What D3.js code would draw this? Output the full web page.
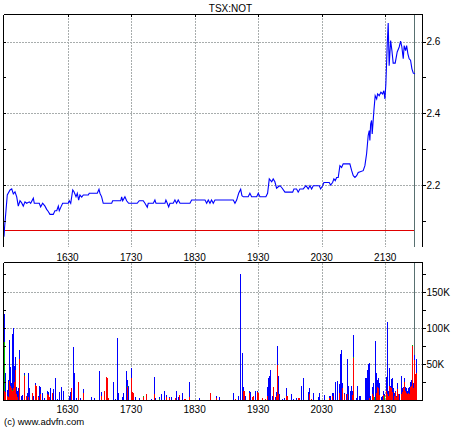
<!DOCTYPE html>
<html><head><meta charset="utf-8">
<script src="https://cdn.jsdelivr.net/npm/d3@7"></script>
<style>
body{margin:0;background:#fff}
svg{display:block}
text{font-family:"Liberation Sans Narrow","Arial Narrow","Liberation Sans",Arial,sans-serif;font-size:10px;fill:#000}
</style>
</head><body>
<svg id="c" width="460" height="430"></svg>
<script>
const title = "TSX:NOT";
const copyright = "(c) www.advfn.com";
// time in minutes after 15:30
const timeTicks = [60, 120, 180, 240, 300, 360];
const timeLabels = ["1630", "1730", "1830", "1930", "2030", "2130"];
const priceTicks = [2.2, 2.4, 2.6];
const priceMinorTicks = [2.1, 2.3, 2.5];
const volTicks = [50, 100, 150];           // thousands
const volTickLabels = ["50K", "100K", "150K"];
const volMinorTicks = [25, 75, 125, 175];
const prevClose = 2.075;
const markerTime = 387.4;

const priceTime = [0,0.5,3.1,5.7,7.3,8.8,10.4,12.0,13.5,15.1,
16.7,18.2,19.8,21.4,23.9,25.2,27.7,28.6,33.3,34.6,
36.5,38.7,40.3,41.8,43.4,46.5,48.1,49.8,51.3,52.2,
53.8,55.4,60.7,61.6,63,64.9,66.1,68,69.2,70.5,
71.7,73.4,74.9,79.6,80.5,88.1,89.7,90.6,92.2,93.7,
101.7,102.6,110.2,111.1,112.1,114.2,115.8,117.7,125.8,127.7,
131.5,133.1,135.3,136.2,141,142.5,143.5,152,152.9,154.2,
155.5,156.7,159.8,161.4,163,164.5,166.2,175.6,177.2,189.8,
191.4,192.9,194.5,196,197.6,199.2,216.5,218.1,219.7,221.6,
223.5,224.7,226,230.6,232.2,233.8,238.6,240.1,241.7,247.3,
248.9,250.5,252.8,254.2,255.8,257.4,259,260.6,262.2,265.3,
272.6,273.8,276.3,277.8,279.4,282.6,285.1,287.3,288.9,290.5,
292,297.7,299,300.9,302.1,307.1,308.4,310.3,311.5,312.8,
314.1,315.6,317.2,318.8,320.3,326.6,328.3,329.8,331.4,333,
334.5,339.2,340.8,342.4,343.9,344.9,345.5,346.2,347.1,347.7,
349.3,350.5,351.9,352.8,354.3,355.9,357.5,358.7,359.7,360.6,
361.9,362.8,363.7,365.1,366.3,367.5,369.4,371.3,373.2,374.5,
375.7,377,377.9,379.2,380.2,381.4,382.6,383.9,385.2,386.5,
388.1];
const priceValue = [2.056,2.080,2.172,2.186,2.189,2.175,2.181,2.167,2.141,2.156,
2.150,2.141,2.153,2.149,2.153,2.149,2.163,2.149,2.149,2.139,
2.149,2.141,2.132,2.126,2.118,2.118,2.128,2.128,2.141,2.128,
2.139,2.149,2.149,2.156,2.149,2.186,2.181,2.167,2.177,2.158,
2.172,2.166,2.172,2.172,2.177,2.177,2.188,2.177,2.167,2.149,
2.149,2.156,2.156,2.167,2.156,2.167,2.156,2.149,2.149,2.156,
2.156,2.149,2.138,2.149,2.149,2.158,2.149,2.149,2.158,2.149,
2.139,2.149,2.149,2.158,2.149,2.158,2.149,2.149,2.158,2.158,
2.149,2.158,2.149,2.158,2.149,2.158,2.158,2.149,2.158,2.177,
2.188,2.170,2.167,2.167,2.177,2.167,2.167,2.177,2.167,2.167,
2.177,2.217,2.209,2.217,2.209,2.191,2.195,2.198,2.193,2.180,
2.180,2.189,2.189,2.180,2.189,2.189,2.198,2.189,2.198,2.189,
2.198,2.198,2.189,2.198,2.207,2.207,2.200,2.207,2.217,2.212,
2.221,2.221,2.254,2.249,2.259,2.259,2.240,2.226,2.221,2.226,
2.235,2.240,2.254,2.287,2.338,2.352,2.324,2.370,2.380,2.342,
2.408,2.449,2.440,2.454,2.449,2.459,2.454,2.463,2.440,2.482,
2.594,2.652,2.533,2.603,2.575,2.540,2.540,2.571,2.585,2.601,
2.585,2.552,2.589,2.575,2.589,2.566,2.552,2.548,2.524,2.512,
2.510];

const volTime = [0,1.3,2.5,3.8,4.4,5.4,6.3,7.2,8.2,9.1,10.1,11.3,12.6,13.5,14.5,15.7,17.3,19.2,20.5,21.4,22.3,23.9,26.1,27.7,29,30.2,31.8,32.8,34.3,35.6,38.1,40.3,41.3,42.2,43.7,45.6,46.5,48.5,50.3,52.2,54.1,55.7,61.4,62.3,63.3,65.1,66.1,68.3,70.1,72,74.9,81.8,85.3,89.7,91.6,94.7,96.6,97.5,98.5,103.2,105.1,107,107.9,111.1,112.6,115.5,116.4,117.4,119.6,120.6,121.5,124,127.7,131.5,134.1,138.5,141.6,142.6,146.6,148.5,151,152.6,155.8,157.4,161.2,162.1,164,165.5,168.3,170.2,171.2,175,184.4,194.5,199.8,203.3,215.9,218.4,221.2,223.1,225,226,226.9,227.8,231.3,232.2,234.1,235.4,237.3,239.2,240.1,243.9,246.7,248.6,249.5,250.5,251.4,252.7,254,255.6,256.6,257.7,258.7,260,262.2,264.3,266.2,267.5,271.2,273.1,275.7,277.8,278.5,280.4,282.6,286.7,288.3,290.1,292,296.2,297.1,302.4,306.5,307.8,309.3,310.9,312.8,314.7,316.6,317.5,318.4,319.4,321,322.6,323.6,325.1,326.4,327.6,328.9,329.8,332.6,333.6,335.5,336.4,341.1,342,343,343.9,344.9,345.8,347.7,348.6,349.6,350.5,351.5,352.4,353.3,354.3,355.9,357.1,358.1,359,360.6,361.6,362.5,363.4,364.4,365.3,366.3,367.2,368.2,369.1,370.4,371.3,372.2,373.2,374.5,375.5,376.4,377.3,378.3,379.2,380.2,381.1,382.1,383,384,384.9,385.9,386.8,387.7,389.3];
const volRed = [12,11,6,4,27,20,16,13,16,25,41,9,4,0,57,0,0,34,5,0,4,0,10,0,21,20,4,0,9,0,0,9,7,4,0,10,0,0,0,0,0,0,0,0,17,0,0,0,25,0,10,0,0,0,6,12,32,30,3,0,0,0,0,0,0,0,18,0,30,11,10,0,0,4,9,0,9,0,0,0,0,4,3,0,3,0,0,7,0,2,2,4,0,10,3,0,0,2,0,0,0,12,13,0,10,0,4,5,0,11,10,3,2,6,0,0,0,0,18,0,5,48,9,0,0,0,5,6,0,0,0,3,3,0,0,0,9,2,0,0,0,0,3,0,6,0,0,0,10,0,0,16,9,0,9,0,0,0,7,59,0,0,0,0,0,0,0,0,3,0,9,5,0,0,10,18,17,7,0,0,7,0,13,9,6,19,18,16,11,0,6,11,4,15,9,0,9,11,16,25,13,10,9,10,9,18,20,75,17,55,36,37];
const volGreen = [68,0,0,0,0,0,0,1,0,0,1,0,0,0,0,0,0,1,
0,0,0,0,0,0,0,0,0,0,0,0,0,0,0,0,0,0,0,0,0,0,0,0,0,0,0,0,0,0,0,0,0,0,0,0,0,0,0,0,0,0,0,0,0,0,0,0,
1,0,1,0,0,0,0,1,0,0,0,0,1,
0,0,0,0,0,0,0,0,0,0,0,0,0,0,0,0,0,0,0,0,0,0,0,0,0,0,0,0,0,0,0,0,0,0,0,0,0,0,0,0,0,0,0,0,0,0,0,0,0,0,0,0,0,0,0,0,0,0,0,0,0,0,0,0,0,0,0,0,0,0,0,0,0,0,0,0,0,0,0,0,
1,0,0,0,0,0,0,0,0,0,0,0,0,4,0,0,0,0,0,0,0,0,6,
0,0,0,0,0,0,0,0,0,0,0,0,0,0,0,0,0,0,0,0,0,0,0,0,0,
2,0,0,0,0];
const volBlue = [40,26,8,24,57,26,7,77,84,22,18,9,9,17,13,6,7,2,0,10,33,16,0,6,3,0,2,19,9,10,3,3,4,0,17,0,15,30,2,11,18,13,6,11,0,74,37,3,0,3,5,4,3,40,5,0,0,0,0,25,2,86,10,4,10,40,9,20,13,0,0,4,3,0,0,2,23,3,3,9,12,3,1,4,0,12,4,0,10,0,0,21,3,0,3,4,10,0,6,175,65,6,0,5,3,11,0,0,13,1,0,0,0,12,31,33,42,6,0,4,6,27,24,9,2,3,11,0,9,2,3,0,0,19,31,11,7,0,10,4,10,7,2,6,4,10,25,26,12,64,70,7,1,8,48,19,12,20,5,30,3,19,6,5,31,31,41,50,49,6,9,19,0,82,27,10,13,16,4,6,5,3,19,99,7,25,2,13,19,16,4,2,2,8,0,9,24,5,2,6,5,7,4,7,9,7,8,0,6,7,0,20];

if (priceTime.length !== priceValue.length) throw new Error("price len " + priceTime.length + " " + priceValue.length);
if (!(volTime.length === volRed.length && volRed.length === volGreen.length && volGreen.length === volBlue.length))
  throw new Error("vol len " + [volTime.length, volRed.length, volGreen.length, volBlue.length].join(","));

const svg = d3.select("#c");
const L = 3.5, R = 422.5;
const T1 = 14.5, B1 = 247, T2 = 262.5, B2 = 400.5;

const x = d3.scaleLinear().domain([0, 395]).range([4, 422.3]);
const yP = d3.scaleLinear().domain([2.027, 2.677]).range([247, 14]);
const yV = d3.scaleLinear().domain([0, 191.7]).range([400, 262]);

const gridColor = "#a8adad";
function grid(top, bottom, yVals, yScale) {
  const g = svg.append("g").attr("shape-rendering", "crispEdges");
  g.selectAll(".gv").data(timeTicks).join("line")
    .attr("x1", d => Math.round(x(d)) + 0.5).attr("x2", d => Math.round(x(d)) + 0.5)
    .attr("y1", top).attr("y2", bottom)
    .attr("stroke", gridColor).attr("stroke-dasharray", "2,1");
  g.selectAll(".gh").data(yVals).join("line")
    .attr("x1", L).attr("x2", R)
    .attr("y1", d => Math.round(yScale(d)) + 0.5).attr("y2", d => Math.round(yScale(d)) + 0.5)
    .attr("stroke", gridColor).attr("stroke-dasharray", "2,1");
}
grid(T1, B1, priceTicks, yP);
grid(T2, B2, volTicks, yV);

// marker line
[[T1, B1], [T2, B2]].forEach(([a, b]) => {
  svg.append("line").attr("x1", Math.round(x(markerTime)) + 0.5).attr("x2", Math.round(x(markerTime)) + 0.5)
    .attr("y1", a).attr("y2", b).attr("stroke", "#587070").attr("shape-rendering", "crispEdges");
});

// previous close line
svg.append("line").attr("x1", L).attr("x2", x(markerTime))
  .attr("y1", Math.round(yP(prevClose)) + 0.5).attr("y2", Math.round(yP(prevClose)) + 0.5)
  .attr("stroke", "#e00000").attr("shape-rendering", "crispEdges");

// price line
const line = d3.line().x((d, i) => x(priceTime[i])).y(d => yP(d));
svg.append("path").datum(priceValue).attr("d", line)
  .attr("fill", "none").attr("stroke", "#0000ff").attr("stroke-width", 1.1);

// volume bars (stacked: red, green, blue)
const bars = svg.append("g").attr("shape-rendering", "crispEdges");
volTime.forEach((t, i) => {
  const xx = Math.round(x(t));
  const segs = [[volRed[i], "#ff0000"], [volGreen[i], "#00c000"], [volBlue[i], "#0000ff"]];
  let base = 0;
  segs.forEach(([v, c]) => {
    if (v > 0) {
      bars.append("rect").attr("x", xx).attr("width", 1.2)
        .attr("y", yV(base + v)).attr("height", yV(base) - yV(base + v)).attr("fill", c);
    }
    base += v;
  });
});

// frames
const fr = svg.append("g").attr("stroke", "#000").attr("shape-rendering", "crispEdges");
fr.append("line").attr("x1", L).attr("x2", R).attr("y1", T1).attr("y2", T1);
fr.append("line").attr("x1", L).attr("x2", L).attr("y1", T1).attr("y2", B1);
fr.append("line").attr("x1", R).attr("x2", R).attr("y1", T1).attr("y2", B1);
fr.append("line").attr("x1", L).attr("x2", R).attr("y1", T2).attr("y2", T2);
fr.append("line").attr("x1", L).attr("x2", L).attr("y1", T2).attr("y2", B2);
fr.append("line").attr("x1", R).attr("x2", R).attr("y1", T2).attr("y2", B2);
fr.append("line").attr("x1", L).attr("x2", R).attr("y1", B2).attr("y2", B2);

// right axes
const axP = d3.axisRight(yP).tickValues(priceTicks.concat(priceMinorTicks))
  .tickSize(3).tickPadding(1).tickFormat(d => priceTicks.includes(d) ? d3.format(".1f")(d) : "");
const gP = svg.append("g").attr("transform", `translate(${R},0)`).call(axP);
const axV = d3.axisRight(yV).tickValues(volTicks.concat(volMinorTicks))
  .tickSize(3).tickPadding(1).tickFormat(d => volTicks.includes(d) ? volTickLabels[volTicks.indexOf(d)] : "");
const gV = svg.append("g").attr("transform", `translate(${R},0)`).call(axV);
[gP, gV].forEach(g => {
  g.select(".domain").remove();
  g.selectAll("line").attr("stroke", "#000").attr("shape-rendering", "crispEdges");
  g.selectAll("text").attr("font-family", null).attr("font-size", null).attr("fill", "#000");
});

// left inner ticks
const lt = svg.append("g").attr("stroke", "#000").attr("shape-rendering", "crispEdges");
lt.selectAll(".lp").data(priceTicks.concat(priceMinorTicks)).join("line")
  .attr("x1", L).attr("x2", L + 2.5)
  .attr("y1", d => Math.round(yP(d)) + 0.5).attr("y2", d => Math.round(yP(d)) + 0.5);
lt.selectAll(".lv").data(volTicks.concat(volMinorTicks)).join("line")
  .attr("x1", L).attr("x2", L + 2.5)
  .attr("y1", d => Math.round(yV(d)) + 0.5).attr("y2", d => Math.round(yV(d)) + 0.5);
// top ticks
lt.selectAll(".tt").data(timeTicks).join("line")
  .attr("x1", d => Math.round(x(d)) + 0.5).attr("x2", d => Math.round(x(d)) + 0.5)
  .attr("y1", T1).attr("y2", T1 + 2.5);

// x labels
svg.selectAll(".xl1").data(timeTicks).join("text")
  .attr("x", d => x(d)).attr("y", 260.5).attr("text-anchor", "middle")
  .text((d, i) => timeLabels[i]);
svg.selectAll(".xl2").data(timeTicks).join("text")
  .attr("x", d => x(d)).attr("y", 413).attr("text-anchor", "middle")
  .text((d, i) => timeLabels[i]);

svg.append("text").attr("x", 230.5).attr("y", 12).attr("text-anchor", "middle").text(title);
svg.append("text").attr("x", 4).attr("y", 424.5).style("font-family", '"Liberation Sans", Arial, sans-serif')
  .style("font-size", "9.5px").text(copyright);
</script>
</body></html>
